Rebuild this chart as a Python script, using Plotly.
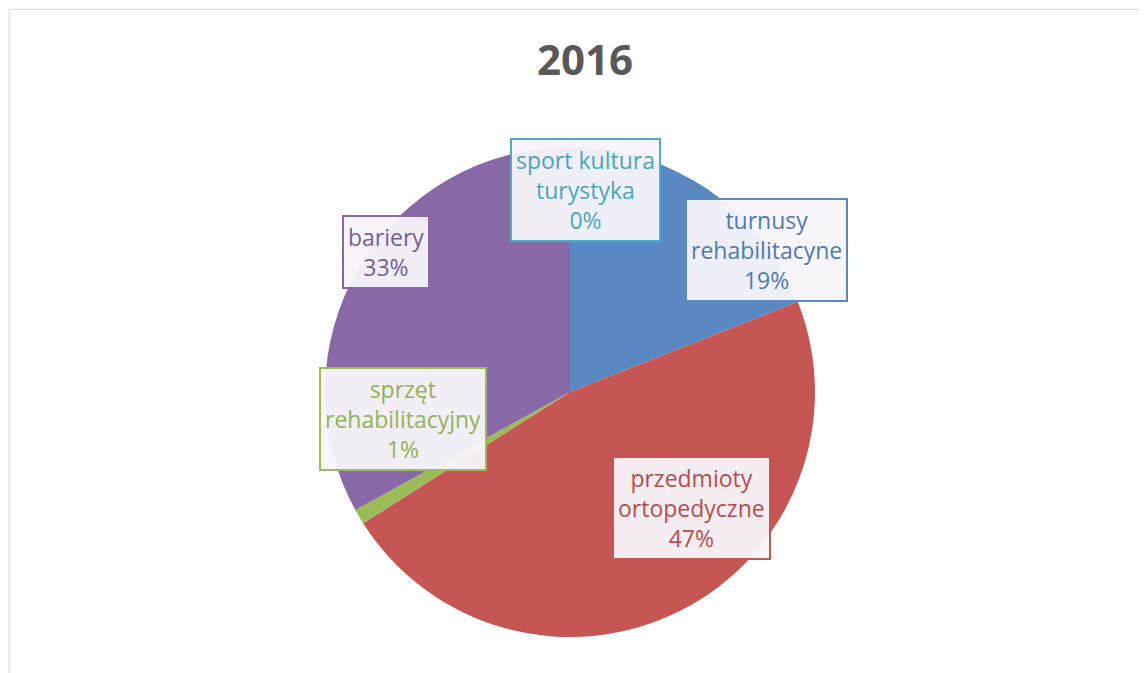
import plotly.graph_objects as go

categories = ["sport kultura<br>turystyka", "turnusy<br>rehabilitacyne", "przedmioty<br>ortopedyczne",
              "sprzęt<br>rehabilitacyjny", "bariery"]
values = [0, 19, 47, 1, 33]
slice_colors = ["#4BACC6", "#5A88C2", "#C65654", "#9BBB59", "#8868A6"]
text_colors = ["#4AA6BF", "#4F7AB0", "#B64E4C", "#93B356", "#775C99"]
label_pos = [(0.5035, 0.7296), (0.6613, 0.6397), (0.5959, 0.2578), (0.3444, 0.390), (0.3296, 0.6374)]

total = sum(values)
pct_labels = [f"{round(100 * v / total)}%" for v in values]

fig = go.Figure()
fig.add_trace(go.Pie(
    labels=[c.replace("<br>", " ") for c in categories],
    values=values,
    sort=False,
    direction="clockwise",
    rotation=0,
    marker=dict(colors=slice_colors, line=dict(width=0)),
    textinfo="none",
    hoverinfo="label+percent",
    showlegend=False,
    domain=dict(x=[317/1147, 807/1147], y=[(673-629)/673, (673-139)/673]),
))

for cat, pct, col, bcol, (x, y) in zip(categories, pct_labels, text_colors, slice_colors, label_pos):
    fig.add_annotation(
        x=x, y=y, xref="paper", yref="paper", xanchor="center", yanchor="middle",
        text=f"{cat}<br>{pct}",
        showarrow=False,
        font=dict(family="Open Sans, Lato, sans-serif", size=23, color=col),
        bgcolor="rgba(248,246,250,0.95)",
        bordercolor=bcol, borderwidth=2, borderpad=4,
        align="center",
    )

fig.update_layout(
    width=1147, height=673,
    margin=dict(l=0, r=0, t=0, b=0),
    paper_bgcolor="white",
    title=dict(text="<b>2016</b>", x=0.503, xanchor="center", y=0.923, yanchor="middle",
               font=dict(family="Open Sans, Lato, sans-serif", size=42, color="#595959")),
    shapes=[dict(type="rect", xref="paper", yref="paper", x0=0.001, y0=-0.01, x1=1.01, y1=0.998,
                 line=dict(color="#D9D9D9", width=1))],
)

fig.write_html("out.html")
